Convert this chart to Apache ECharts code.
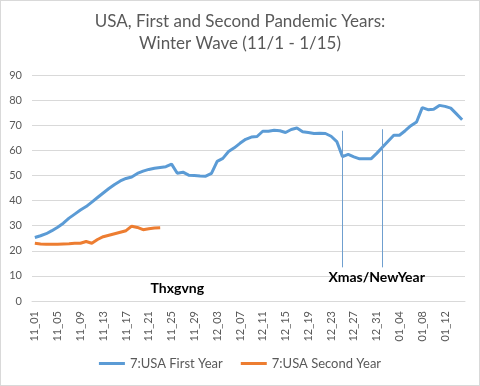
<!DOCTYPE html>
<html><head><meta charset="utf-8">
<script src="https://cdn.jsdelivr.net/npm/echarts@6/dist/echarts.min.js"></script>
<style>html,body{margin:0;padding:0;background:#fff}#c{width:480px;height:386px;box-sizing:border-box;border:1px solid #d9d9d9}</style>
</head><body><div id="c"></div>
<script>
function buildDays(){var d=[];for(var i=1;i<=30;i++)d.push('11_'+(i<10?'0':'')+i);for(i=1;i<=31;i++)d.push('12_'+(i<10?'0':'')+i);for(i=1;i<=15;i++)d.push('01_'+(i<10?'0':'')+i);return d;}
var categories = buildDays();
var firstYear = [25.3,26.0,26.8,28.0,29.4,31.0,33.0,34.6,36.2,37.6,39.4,41.2,43.0,44.8,46.4,47.8,48.8,49.4,50.8,51.7,
52.4,52.9,53.2,53.5,54.5,50.9,51.3,50.1,50.0,49.8,49.7,50.8,55.6,56.8,59.5,61.0,62.8,64.4,65.3,65.5,
67.6,67.6,68.0,67.8,67.1,68.3,68.9,67.4,67.1,66.7,66.8,66.7,65.6,63.5,57.5,58.4,57.4,56.6,56.6,56.6,
58.8,61.2,63.6,66.0,66.0,67.8,69.8,71.3,77.0,76.2,76.4,77.9,77.5,76.8,74.5,72.2];
var secondYear = [23.0,22.7,22.6,22.6,22.6,22.7,22.8,23.0,23.0,23.7,23.0,24.5,25.6,26.2,26.8,27.4,28.0,29.8,29.3,28.4,28.8,29.1,29.2];
var annotations = [{name:'Thxgvng', day:'11_26', value:5},{name:'Xmas/NewYear', day:'12_31', value:9.5}];
var holidayLines = [{day:'12_25', from:13.4, to:67.8},{day:'01_01', from:13.4, to:68.4}];
var yTicks = {min:0, max:90, interval:10};

var chart = echarts.init(document.getElementById('c'));
var font = 'Lato, "Open Sans", sans-serif';
chart.setOption({
  animation:false,
  title:{text:'USA, First and Second Pandemic Years:\nWinter Wave (11/1 - 1/15)',left:'center',top:5,
    textStyle:{fontFamily:font,fontSize:17,fontWeight:'normal',color:'#595959',lineHeight:22}},
  legend:{bottom:10,left:'center',itemWidth:26,itemHeight:3,itemGap:18,icon:'rect',
    textStyle:{fontFamily:font,fontSize:13,color:'#595959'}},
  grid:{left:31,right:14,top:74,bottom:84,containLabel:false},
  xAxis:{type:'category',data:categories,boundaryGap:true,
    axisLine:{lineStyle:{color:'#d9d9d9'}},axisTick:{show:false},
    axisLabel:{interval:3,rotate:90,color:'#595959',fontFamily:font,fontSize:11,margin:10}},
  yAxis:{type:'value',min:yTicks.min,max:yTicks.max,interval:yTicks.interval,
    axisLine:{show:false},axisTick:{show:false},
    splitLine:{lineStyle:{color:'#d9d9d9'}},
    axisLabel:{color:'#595959',fontFamily:font,fontSize:11,margin:10}},
  series:[
    {name:'7:USA First Year',type:'line',data:firstYear,showSymbol:false,symbol:'none',
      lineStyle:{width:3,color:'#5b9bd5'},itemStyle:{color:'#5b9bd5'},
      markLine:{silent:true,symbol:'none',label:{show:false},lineStyle:{color:'#6f9fcf',width:1,type:'solid'},
        data:holidayLines.map(function(h){return [{coord:[h.day,h.from]},{coord:[h.day,h.to]}];})},
      markPoint:{silent:true,symbol:'circle',symbolSize:0,
        label:{show:true,color:'#000',fontFamily:font,fontWeight:'bold',fontSize:14,formatter:'{b}'},
        data:annotations.map(function(a){return {name:a.name,coord:[a.day,a.value]};})}},
    {name:'7:USA Second Year',type:'line',data:secondYear,showSymbol:false,symbol:'none',
      lineStyle:{width:3,color:'#ed7d31'},itemStyle:{color:'#ed7d31'}}
  ]
});
</script></body></html>
